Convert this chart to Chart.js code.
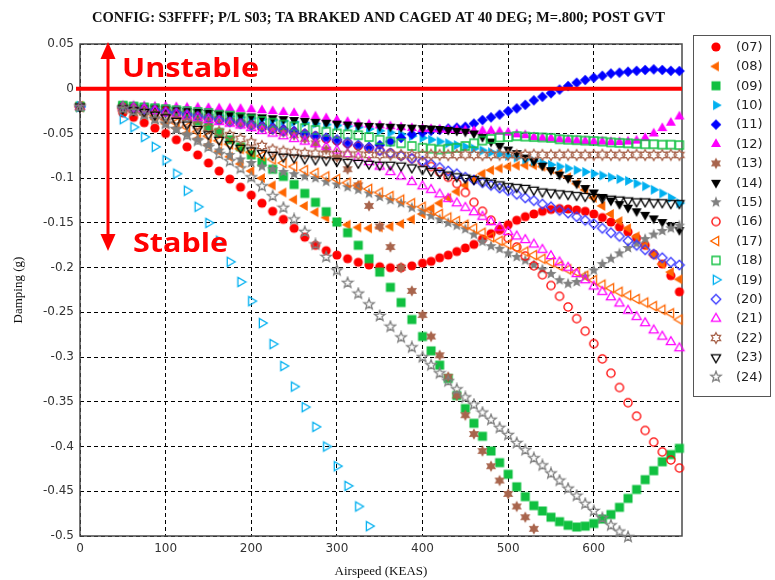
<!DOCTYPE html>
<html>
<head>
<meta charset="utf-8">
<script src="https://cdn.jsdelivr.net/npm/chart.js@4.4.0/dist/chart.umd.min.js"></script>
<style>
  html, body { margin: 0; padding: 0; background: #ffffff; }
  #wrap { width: 775px; height: 580px; position: relative; }
</style>
</head>
<body>
<div id="wrap"><canvas id="c" width="775" height="580"></canvas></div>
<script>
// Airspeed grid (KEAS) shared by every mode
const speeds = [0, 50, 62.5, 75, 87.5, 100, 112.5, 125, 137.5, 150, 162.5, 175, 187.5, 200, 212.5, 225, 237.5, 250, 262.5, 275, 287.5, 300, 312.5, 325, 337.5, 350, 362.5, 375, 387.5, 400,
  410, 420, 430, 440, 450, 460, 470, 480, 490, 500, 510, 520, 530, 540, 550, 560, 570, 580, 590, 600, 610, 620, 630, 640, 650, 660, 670, 680, 690, 700];

// Damping (g) per mode
const mode07 = [-0.020, -0.027, -0.032, -0.038, -0.044, -0.050, -0.057, -0.065, -0.074, -0.083,
  -0.092, -0.101, -0.110, -0.119, -0.128, -0.137, -0.146, -0.156, -0.166, -0.175,
  -0.181, -0.186, -0.190, -0.194, -0.197, -0.199, -0.200, -0.200, -0.198, -0.195,
  -0.193, -0.189, -0.186, -0.182, -0.178, -0.174, -0.168, -0.162, -0.157, -0.152,
  -0.147, -0.143, -0.140, -0.137, -0.135, -0.134, -0.1345, -0.1355, -0.137, -0.140,
  -0.144, -0.149, -0.1545, -0.160, -0.167, -0.175, -0.185, -0.196, -0.209, -0.227];
const mode08 = [-0.020, -0.022, -0.025, -0.029, -0.034, -0.039, -0.044, -0.050, -0.056, -0.063,
  -0.070, -0.076, -0.084, -0.092, -0.100, -0.108, -0.116, -0.124, -0.131, -0.138,
  -0.144, -0.149, -0.152, -0.155, -0.156, -0.155, -0.154, -0.151, -0.146, -0.140,
  -0.134, -0.128, -0.122, -0.115, -0.108, -0.101, -0.095, -0.091, -0.089, -0.087,
  -0.086, -0.0855, -0.0855, -0.087, -0.090, -0.094, -0.099, -0.106, -0.113, -0.122,
  -0.131, -0.140, -0.148, -0.156, -0.165, -0.175, -0.186, -0.196, -0.205, -0.213];
const mode09 = [-0.020, -0.019, -0.020, -0.021, -0.022, -0.023, -0.025, -0.030, -0.036, -0.042,
  -0.049, -0.057, -0.065, -0.074, -0.082, -0.090, -0.098, -0.107, -0.117, -0.127,
  -0.1375, -0.149, -0.161, -0.175, -0.190, -0.205, -0.222, -0.239, -0.258, -0.277,
  -0.293, -0.309, -0.324, -0.343, -0.3575, -0.374, -0.3885, -0.405, -0.418, -0.431,
  -0.445, -0.456, -0.466, -0.472, -0.479, -0.484, -0.488, -0.490, -0.489, -0.486,
  -0.481, -0.476, -0.468, -0.458, -0.448, -0.437, -0.427, -0.417, -0.409, -0.402];
const mode10 = [-0.020, -0.021, -0.022, -0.023, -0.024, -0.025, -0.026, -0.027, -0.028, -0.029,
  -0.030, -0.031, -0.032, -0.033, -0.034, -0.035, -0.036, -0.037, -0.038, -0.039,
  -0.040, -0.041, -0.042, -0.043, -0.045, -0.047, -0.049, -0.051, -0.053, -0.055,
  -0.057, -0.059, -0.061, -0.063, -0.065, -0.067, -0.069, -0.071, -0.073, -0.075,
  -0.077, -0.079, -0.081, -0.083, -0.085, -0.087, -0.089, -0.091, -0.093, -0.095,
  -0.097, -0.099, -0.101, -0.103, -0.106, -0.109, -0.113, -0.117, -0.122, -0.128];
const mode11 = [-0.020, -0.021, -0.022, -0.023, -0.024, -0.025, -0.026, -0.028, -0.029, -0.031,
  -0.033, -0.035, -0.037, -0.039, -0.041, -0.043, -0.045, -0.047, -0.050, -0.053,
  -0.056, -0.059, -0.062, -0.064, -0.065, -0.063, -0.059, -0.055, -0.051, -0.049,
  -0.047, -0.046, -0.0445, -0.0435, -0.0425, -0.039, -0.035, -0.032, -0.029, -0.025,
  -0.022, -0.018, -0.013, -0.009, -0.005, -0.001, 0.003, 0.0067, 0.0097, 0.0123,
  0.0145, 0.017, 0.018, 0.019, 0.020, 0.021, 0.0217, 0.021, 0.020, 0.0198];
const mode12 = [-0.020, -0.019, -0.019, -0.0195, -0.020, -0.020, -0.0205, -0.021, -0.021, -0.0215,
  -0.022, -0.022, -0.0225, -0.023, -0.024, -0.025, -0.026, -0.027, -0.029, -0.031,
  -0.033, -0.035, -0.037, -0.039, -0.040, -0.041, -0.042, -0.043, -0.044, -0.045,
  -0.045, -0.0455, -0.046, -0.046, -0.0465, -0.047, -0.047, -0.047, -0.048, -0.049,
  -0.051, -0.052, -0.054, -0.055, -0.0555, -0.0565, -0.057, -0.058, -0.0585, -0.059,
  -0.059, -0.0595, -0.0595, -0.059, -0.058, -0.055, -0.050, -0.044, -0.038, -0.031];
const mode13 = [-0.020, -0.022, -0.023, -0.024, -0.025, -0.026, -0.027, -0.028, -0.030, -0.032,
  -0.034, -0.036, -0.038, -0.040, -0.043, -0.046, -0.049, -0.052, -0.056, -0.061,
  -0.068, -0.077, -0.090, -0.108, -0.131, -0.154, -0.177, -0.200, -0.226, -0.253,
  -0.277, -0.298, -0.322, -0.343, -0.365, -0.386, -0.405, -0.422, -0.438, -0.453,
  -0.467, -0.479, -0.492];
const mode14 = [-0.020, -0.020, -0.021, -0.022, -0.022, -0.023, -0.024, -0.025, -0.026, -0.027,
  -0.028, -0.029, -0.030, -0.031, -0.032, -0.033, -0.034, -0.035, -0.036, -0.037,
  -0.038, -0.039, -0.040, -0.041, -0.0415, -0.042, -0.0425, -0.043, -0.0435, -0.044,
  -0.0445, -0.045, -0.046, -0.047, -0.048, -0.050, -0.054, -0.059, -0.064, -0.068,
  -0.072, -0.077, -0.081, -0.086, -0.091, -0.096, -0.100, -0.106, -0.111, -0.116,
  -0.121, -0.125, -0.129, -0.133, -0.137, -0.141, -0.145, -0.149, -0.153, -0.158];
const mode15 = [-0.020, -0.022, -0.025, -0.029, -0.034, -0.039, -0.045, -0.051, -0.057, -0.063,
  -0.069, -0.074, -0.079, -0.083, -0.087, -0.090, -0.093, -0.0955, -0.098, -0.100,
  -0.104, -0.107, -0.110, -0.113, -0.117, -0.121, -0.1245, -0.128, -0.133, -0.137,
  -0.142, -0.146, -0.150, -0.153, -0.157, -0.163, -0.171, -0.176, -0.179, -0.184,
  -0.188, -0.192, -0.197, -0.202, -0.207, -0.214, -0.218, -0.216, -0.210, -0.203,
  -0.196, -0.190, -0.184, -0.178, -0.173, -0.168, -0.163, -0.159, -0.156, -0.153];
const mode16 = [-0.020, -0.021, -0.022, -0.023, -0.024, -0.025, -0.027, -0.029, -0.031, -0.033,
  -0.035, -0.037, -0.039, -0.041, -0.043, -0.045, -0.047, -0.049, -0.051, -0.053,
  -0.056, -0.058, -0.061, -0.064, -0.067, -0.069, -0.072, -0.075, -0.078, -0.082,
  -0.087, -0.093, -0.099, -0.106, -0.116, -0.127, -0.137, -0.147, -0.158, -0.167,
  -0.177, -0.187, -0.198, -0.208, -0.220, -0.232, -0.244, -0.257, -0.271, -0.285,
  -0.302, -0.318, -0.334, -0.351, -0.366, -0.382, -0.395, -0.406, -0.415, -0.424];
const mode17 = [-0.020, -0.022, -0.024, -0.027, -0.030, -0.034, -0.038, -0.043, -0.048, -0.053,
  -0.058, -0.062, -0.067, -0.071, -0.075, -0.079, -0.083, -0.087, -0.091, -0.094,
  -0.098, -0.101, -0.105, -0.108, -0.112, -0.116, -0.120, -0.124, -0.128, -0.132,
  -0.136, -0.140, -0.144, -0.148, -0.152, -0.156, -0.161, -0.166, -0.170, -0.174,
  -0.178, -0.182, -0.186, -0.190, -0.194, -0.198, -0.202, -0.205, -0.209, -0.214,
  -0.219, -0.223, -0.227, -0.231, -0.235, -0.239, -0.243, -0.247, -0.251, -0.258];
const mode18 = [-0.020, -0.019, -0.020, -0.021, -0.022, -0.023, -0.024, -0.025, -0.026, -0.027,
  -0.029, -0.030, -0.032, -0.034, -0.036, -0.038, -0.040, -0.042, -0.044, -0.046,
  -0.048, -0.050, -0.051, -0.052, -0.054, -0.057, -0.059, -0.061, -0.064, -0.066,
  -0.067, -0.068, -0.067, -0.066, -0.064, -0.061, -0.058, -0.056, -0.0545, -0.054,
  -0.053, -0.0535, -0.054, -0.0545, -0.055, -0.0565, -0.057, -0.0575, -0.058, -0.0585,
  -0.059, -0.060, -0.0605, -0.061, -0.0615, -0.062, -0.062, -0.0625, -0.0625, -0.063];
const mode19 = [-0.020, -0.034, -0.043, -0.054, -0.065, -0.080, -0.095, -0.114, -0.132, -0.150,
  -0.170, -0.1935, -0.216, -0.2375, -0.262, -0.2855, -0.310, -0.333, -0.356, -0.378,
  -0.400, -0.422, -0.444, -0.467, -0.489];
const mode20 = [-0.020, -0.021, -0.022, -0.023, -0.024, -0.026, -0.027, -0.029, -0.031, -0.033,
  -0.035, -0.037, -0.039, -0.041, -0.043, -0.045, -0.047, -0.049, -0.051, -0.053,
  -0.055, -0.057, -0.060, -0.063, -0.066, -0.069, -0.072, -0.075, -0.078, -0.081,
  -0.084, -0.088, -0.092, -0.095, -0.099, -0.102, -0.105, -0.108, -0.111, -0.114,
  -0.118, -0.122, -0.125, -0.129, -0.132, -0.136, -0.139, -0.143, -0.147, -0.151,
  -0.156, -0.161, -0.165, -0.170, -0.175, -0.180, -0.185, -0.189, -0.194, -0.197];
const mode21 = [-0.020, -0.021, -0.022, -0.023, -0.025, -0.027, -0.029, -0.031, -0.033, -0.035,
  -0.037, -0.039, -0.041, -0.044, -0.047, -0.050, -0.053, -0.056, -0.059, -0.062,
  -0.065, -0.069, -0.073, -0.077, -0.082, -0.087, -0.093, -0.098, -0.104, -0.109,
  -0.113, -0.118, -0.123, -0.128, -0.133, -0.138, -0.143, -0.149, -0.155, -0.160,
  -0.165, -0.169, -0.174, -0.180, -0.187, -0.194, -0.200, -0.207, -0.214, -0.221,
  -0.227, -0.233, -0.240, -0.248, -0.255, -0.262, -0.270, -0.277, -0.283, -0.290];
const mode22 = [-0.020, -0.022, -0.024, -0.026, -0.029, -0.032, -0.035, -0.038, -0.041, -0.044,
  -0.048, -0.052, -0.056, -0.060, -0.064, -0.068, -0.070, -0.071, -0.072, -0.0725,
  -0.073, -0.073, -0.0735, -0.0735, -0.074, -0.074, -0.0738, -0.074, -0.0742, -0.074,
  -0.0738, -0.074, -0.0742, -0.074, -0.0738, -0.074, -0.0742, -0.074, -0.0738, -0.074,
  -0.0742, -0.074, -0.0738, -0.074, -0.0742, -0.074, -0.0738, -0.074, -0.0742, -0.074,
  -0.0738, -0.074, -0.0742, -0.074, -0.0738, -0.074, -0.0742, -0.074, -0.0738, -0.074];
const mode23 = [-0.020, -0.022, -0.024, -0.026, -0.029, -0.032, -0.036, -0.040, -0.045, -0.051,
  -0.057, -0.062, -0.066, -0.069, -0.072, -0.074, -0.076, -0.077, -0.078, -0.079,
  -0.080, -0.081, -0.082, -0.083, -0.084, -0.085, -0.085, -0.086, -0.088, -0.090,
  -0.092, -0.094, -0.096, -0.098, -0.0995, -0.101, -0.103, -0.105, -0.107, -0.109,
  -0.110, -0.111, -0.113, -0.115, -0.116, -0.117, -0.118, -0.119, -0.120, -0.121,
  -0.122, -0.123, -0.124, -0.125, -0.126, -0.126, -0.127, -0.127, -0.128, -0.128];
const mode24 = [-0.020, -0.022, -0.025, -0.029, -0.034, -0.039, -0.045, -0.052, -0.058, -0.065,
  -0.073, -0.081, -0.089, -0.099, -0.109, -0.120, -0.133, -0.146, -0.160, -0.174,
  -0.188, -0.203, -0.217, -0.229, -0.241, -0.254, -0.266, -0.278, -0.289, -0.300,
  -0.309, -0.318, -0.327, -0.336, -0.345, -0.353, -0.362, -0.370, -0.379, -0.387,
  -0.396, -0.404, -0.413, -0.421, -0.430, -0.438, -0.447, -0.455, -0.464, -0.472,
  -0.480, -0.488, -0.495, -0.501];

const modeLabels = ['(07)', '(08)', '(09)', '(10)', '(11)', '(12)', '(13)', '(14)', '(15)',
  '(16)', '(17)', '(18)', '(19)', '(20)', '(21)', '(22)', '(23)', '(24)'];

const xTicks = [0, 100, 200, 300, 400, 500, 600];
const xTickLabels = ['0', '100', '200', '300', '400', '500', '600'];
const yTicks = [-0.5, -0.45, -0.4, -0.35, -0.3, -0.25, -0.2, -0.15, -0.1, -0.05, 0, 0.05];
const yTickLabels = ['-0.5', '-0.45', '-0.4', '-0.35', '-0.3', '-0.25', '-0.2', '-0.15', '-0.1', '-0.05', '0', '0.05'];

// Marker glyphs drawn once into small canvases
function makeMarker(shape, color, filled) {
  const S = 14;
  const c = document.createElement('canvas');
  c.width = S; c.height = S;
  const g = c.getContext('2d');
  g.translate(S / 2, S / 2);
  g.beginPath();
  const poly = (pts) => { pts.forEach((p, i) => i ? g.lineTo(p[0], p[1]) : g.moveTo(p[0], p[1])); g.closePath(); };
  const tri = (angDeg, R) => {
    const pts = [];
    for (let k = 0; k < 3; k++) {
      const a = (angDeg + k * 120) * Math.PI / 180;
      pts.push([R * Math.cos(a), R * Math.sin(a)]);
    }
    poly(pts);
  };
  const star = (n, R, r) => {
    const pts = [];
    for (let k = 0; k < 2 * n; k++) {
      const a = (-90 + k * 180 / n) * Math.PI / 180;
      const rr = k % 2 ? r : R;
      pts.push([rr * Math.cos(a), rr * Math.sin(a)]);
    }
    poly(pts);
  };
  switch (shape) {
    case 'circle': g.arc(0, 0, filled ? 4.6 : 4.1, 0, Math.PI * 2); break;
    case 'square': { const h = filled ? 4.5 : 4; g.rect(-h, -h, 2 * h, 2 * h); break; }
    case 'diamond': { const h = filled ? 5.3 : 4.8; poly([[0, -h], [h, 0], [0, h], [-h, 0]]); break; }
    case 'up': tri(-90, filled ? 5.8 : 5.3); break;
    case 'down': tri(90, filled ? 5.8 : 5.3); break;
    case 'left': tri(180, filled ? 5.8 : 5.3); break;
    case 'right': tri(0, filled ? 5.8 : 5.3); break;
    case 'star5': star(5, filled ? 6 : 5.5, filled ? 2.6 : 2.3); break;
    case 'star6': star(6, filled ? 5.8 : 5.3, filled ? 3.3 : 3.0); break;
  }
  if (filled) { g.fillStyle = color; g.fill(); }
  else { g.strokeStyle = color; g.lineWidth = 1.3; g.stroke(); }
  return c;
}

const RED = '#ff0000', ORANGE = '#ff6600', GREEN = '#10c040', LBLUE = '#00b0f0',
  BLUE = '#0000ff', OBLUE = '#3a3aff', MAGENTA = '#ff00ff', BROWN = '#a8644c', BLACK = '#000000', GREY = '#808080';

const seriesValues = [mode07, mode08, mode09, mode10, mode11, mode12, mode13, mode14, mode15,
  mode16, mode17, mode18, mode19, mode20, mode21, mode22, mode23, mode24];
const seriesGlyphs = [
  makeMarker('circle', RED, true), makeMarker('left', ORANGE, true), makeMarker('square', GREEN, true),
  makeMarker('right', LBLUE, true), makeMarker('diamond', BLUE, true), makeMarker('up', MAGENTA, true),
  makeMarker('star6', BROWN, true), makeMarker('down', BLACK, true), makeMarker('star5', GREY, true),
  makeMarker('circle', RED, false), makeMarker('left', ORANGE, false), makeMarker('square', GREEN, false),
  makeMarker('right', LBLUE, false), makeMarker('diamond', OBLUE, false), makeMarker('up', MAGENTA, false),
  makeMarker('star6', BROWN, false), makeMarker('down', BLACK, false), makeMarker('star5', GREY, false)
];

const datasets = seriesValues.map((vals, i) => ({
  label: modeLabels[i],
  data: vals.map((v, j) => ({ x: speeds[j], y: v })),
  pointStyle: seriesGlyphs[i],
  pointRadius: 5,
  pointHoverRadius: 5,
  showLine: false,
  clip: false,
  order: -i
}));

// Frame, stability annotation, title and legend box
const decorations = {
  id: 'decorations',
  beforeDatasetsDraw(chart) {
    const { ctx, chartArea: a } = chart;
    ctx.save();
    ctx.strokeStyle = '#4a4a4a';
    ctx.lineWidth = 1.5;
    ctx.strokeRect(a.left, a.top, a.right - a.left, a.bottom - a.top);
    ctx.restore();
  },
  afterDatasetsDraw(chart) {
    const { ctx, chartArea: a, scales } = chart;
    const y0 = scales.y.getPixelForValue(0);
    ctx.save();
    // neutral-stability line
    ctx.strokeStyle = RED;
    ctx.lineWidth = 4;
    ctx.beginPath();
    ctx.moveTo(76, y0);
    ctx.lineTo(a.right, y0);
    ctx.stroke();
    // double-headed arrow
    const ax = 108;
    ctx.lineWidth = 3;
    ctx.beginPath();
    ctx.moveTo(ax, 55);
    ctx.lineTo(ax, 238);
    ctx.stroke();
    ctx.fillStyle = RED;
    ctx.beginPath();
    ctx.moveTo(ax, 42); ctx.lineTo(ax - 7.5, 59); ctx.lineTo(ax + 7.5, 59); ctx.closePath();
    ctx.fill();
    ctx.beginPath();
    ctx.moveTo(ax, 251); ctx.lineTo(ax - 7.5, 234); ctx.lineTo(ax + 7.5, 234); ctx.closePath();
    ctx.fill();
    // words
    const word = (txt, x, baseline, width) => {
      ctx.font = 'bold 27px "Open Sans"';
      ctx.textAlign = 'left';
      ctx.textBaseline = 'alphabetic';
      const w = ctx.measureText(txt).width;
      ctx.save();
      ctx.translate(x, baseline);
      ctx.scale(width / w, 1);
      ctx.fillText(txt, 0, 0);
      ctx.restore();
    };
    word('Unstable', 122, 77, 137);
    word('Stable', 133, 252, 95);
    ctx.restore();
  },
  afterDraw(chart) {
    const { ctx } = chart;
    ctx.save();
    // title
    const title = 'CONFIG: S3FFFF; P/L S03; TA BRAKED AND CAGED AT 40 DEG; M=.800; POST GVT';
    ctx.font = 'bold 14px "Liberation Serif"';
    ctx.fillStyle = '#111';
    ctx.textAlign = 'left';
    ctx.textBaseline = 'alphabetic';
    const tw = ctx.measureText(title).width;
    ctx.translate(92, 22);
    ctx.scale(573 / tw, 1);
    ctx.fillText(title, 0, 0);
    ctx.restore();

    // legend
    ctx.save();
    ctx.strokeStyle = '#555';
    ctx.lineWidth = 1;
    ctx.strokeRect(693.5, 35.5, 77, 361);
    ctx.font = '13px "DejaVu Sans"';
    ctx.fillStyle = '#222';
    ctx.textAlign = 'left';
    ctx.textBaseline = 'middle';
    chart.data.datasets.forEach((ds, i) => {
      const cy = 47 + i * 19.4;
      const g = ds.pointStyle;
      ctx.drawImage(g, 716 - g.width / 2, cy - g.height / 2);
      ctx.fillText(ds.label, 736, cy + 0.5);
    });
    ctx.restore();
  }
};

Chart.defaults.font.family = '"DejaVu Sans", sans-serif';

new Chart(document.getElementById('c'), {
  type: 'scatter',
  data: { datasets },
  options: {
    responsive: false,
    animation: false,
    devicePixelRatio: 1,
    events: [],
    layout: { padding: { left: 0, right: 93, top: 44, bottom: 0 } },
    plugins: {
      legend: { display: false },
      tooltip: { enabled: false },
      title: { display: false }
    },
    scales: {
      x: {
        type: 'linear',
        min: 0,
        max: 703,
        afterBuildTicks: (s) => { s.ticks = xTicks.map(v => ({ value: v })); },
        afterFit: (s) => { s.height = 44; },
        grid: { color: '#000', lineWidth: 1, drawTicks: false },
        border: { display: false, dash: [4, 3] },
        ticks: {
          padding: 6,
          color: '#333',
          font: { size: 12 },
          maxRotation: 0,
          callback: (v, i) => xTickLabels[i]
        },
        title: {
          display: true,
          text: 'Airspeed (KEAS)',
          color: '#111',
          font: { family: '"Liberation Serif", serif', size: 13 },
          padding: { top: 0, bottom: 1 }
        }
      },
      y: {
        type: 'linear',
        min: -0.5,
        max: 0.05,
        afterBuildTicks: (s) => { s.ticks = yTicks.map(v => ({ value: v })); },
        afterFit: (s) => { s.width = 80; },
        grid: { color: '#000', lineWidth: 1, drawTicks: false },
        border: { display: false, dash: [4, 3] },
        ticks: {
          padding: 6,
          color: '#333',
          font: { size: 12 },
          callback: (v, i) => yTickLabels[i]
        },
        title: {
          display: true,
          text: 'Damping (g)',
          color: '#111',
          font: { family: '"Liberation Serif", serif', size: 13 },
          padding: { top: 11, bottom: 0 }
        }
      }
    }
  },
  plugins: [decorations]
});
</script>
</body>
</html>
